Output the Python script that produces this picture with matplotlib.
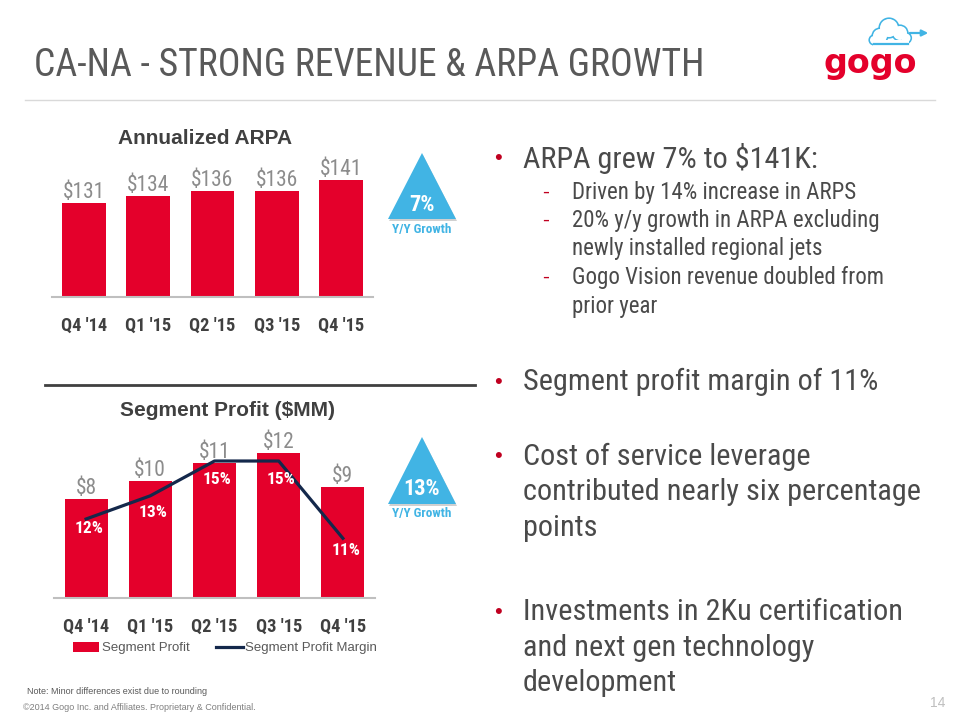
import matplotlib
matplotlib.use("Agg")
import matplotlib.pyplot as plt
from matplotlib.patches import Polygon, Circle, Rectangle

# ---------------- data ----------------
quarters = ["Q4 '14", "Q1 '15", "Q2 '15", "Q3 '15", "Q4 '15"]
arpa = [131, 134, 136, 136, 141]                 # $K, annualized ARPA
segment_profit = [8.1, 9.6, 11.1, 11.9, 9.1]     # $MM
profit_margin = [12.0, 13.2, 15.0, 15.0, 11.0]   # %
arpa_growth = "7%"
profit_growth = "13%"
bullets = [
    ("ARPA grew 7% to $141K:", [
        ["Driven by 14% increase in ARPS"],
        ["20% y/y growth in ARPA excluding", "newly installed regional jets"],
        ["Gogo Vision revenue doubled from", "prior year"],
    ]),
    ("Segment profit margin of 11%", []),
    ("Cost of service leverage\ncontributed nearly six percentage\npoints", []),
    ("Investments in 2Ku certification\nand next gen technology\ndevelopment", []),
]

# ---------------- style ----------------
RED = "#E4002B"
NAVY = "#14284B"
BLUE = "#41B4E4"
DARK = "#404040"
GREY = "#8C8C8C"
NARROW = ["Roboto Condensed", "Archivo Narrow", "DejaVu Sans"]
SANS = ["Liberation Sans", "DejaVu Sans"]

W, H = 960, 720
fig = plt.figure(figsize=(9.6, 7.2), dpi=100)
fig.patch.set_facecolor("white")


def fx(px):
    return px / W


def fy(py):
    return 1 - py / H


def style_axes(ax):
    for s in ("top", "right", "left"):
        ax.spines[s].set_visible(False)
    ax.spines["bottom"].set_color("#BFBFBF")
    ax.spines["bottom"].set_linewidth(1.5)
    ax.set_yticks([])
    ax.set_facecolor("none")
    ax.tick_params(axis="x", length=0, pad=14.5)
    for lab in ax.get_xticklabels():
        lab.set_fontfamily(NARROW)
        lab.set_fontweight("bold")
        lab.set_fontsize(13.2)
        lab.set_color(DARK)


x = list(range(len(quarters)))

# ---------------- ARPA chart ----------------
ax1 = fig.add_axes([fx(52), fy(297), fx(321), (297 - 150) / H])
bars1 = ax1.bar(x, arpa, width=0.68, color=RED, zorder=2)
ax1.set_xlim(-0.5, 4.5)
ax1.set_ylim(90, 90 + 147 / 2.3)
ax1.set_xticks(x, quarters)
style_axes(ax1)
ax1.bar_label(bars1, labels=[f"${v:.0f}" for v in arpa], padding=0,
              fontsize=15.5, color=GREY, family=NARROW)
fig.text(fx(205), fy(139), "Annualized ARPA", ha="center", va="center",
         fontsize=15, fontweight="bold", color=DARK, family=SANS)

# ---------------- Segment profit chart ----------------
ax2 = fig.add_axes([fx(54), fy(598), fx(321), (598 - 420) / H])
bars2 = ax2.bar(x, segment_profit, width=0.67, color=RED, zorder=2,
                label="Segment Profit")
ax2.set_xlim(-0.5, 4.5)
ax2.set_ylim(0, 178 / 12.2)
ax2.set_xticks(x, quarters)
style_axes(ax2)
ax2.bar_label(bars2, labels=[f"${v:.0f}" for v in segment_profit], padding=0,
              fontsize=15.5, color=GREY, family=NARROW)

ax3 = ax2.twinx()
ax3.set_ylim(12 - (598 - 519) / 19.33, 12 - (598 - 519) / 19.33 + 178 / 19.33)
line, = ax3.plot(x, profit_margin, color=NAVY, lw=2.3, zorder=3,
                 label="Segment Profit Margin")
ax3.set_yticks([])
for s in ax3.spines.values():
    s.set_visible(False)
label_offsets = [-7, -12, -13, -13, -9]
for xi, m, off in zip(x, profit_margin, label_offsets):
    ax3.annotate(f"{m:.0f}%", (xi, m), xytext=(2, off), textcoords="offset points",
                 ha="center", va="center", color="white", fontsize=12.5,
                 fontweight="bold", family=NARROW, zorder=4)

fig.text(fx(227), fy(410), "Segment Profit ($MM)", ha="center", va="center",
         fontsize=15, fontweight="bold", color=DARK, family=SANS)

leg = fig.legend(handles=[bars2, line], labels=["Segment Profit", "Segment Profit Margin"],
                 loc="center left", bbox_to_anchor=(fx(73), fy(648)), ncol=2,
                 frameon=False, fontsize=9.5, handlelength=2.0, handleheight=0.8,
                 handletextpad=0.2, columnspacing=2.0, borderpad=0, borderaxespad=0)
for t in leg.get_texts():
    t.set_color("#595959")
    t.set_fontfamily(SANS)

# ---------------- overlay (decorations & text) ----------------
ov = fig.add_axes([0, 0, 1, 1], zorder=5)
ov.set_xlim(0, W)
ov.set_ylim(H, 0)
ov.axis("off")
ov.patch.set_visible(False)

# title
ov.text(34, 66, "CA-NA - STRONG REVENUE & ARPA GROWTH", ha="left", va="center",
        fontsize=27.2, color="#595959", family=NARROW)
ov.plot([25, 935], [100, 100], color="#D9D9D9", lw=1)
ov.plot([45, 475], [385, 385], color=DARK, lw=2)

# logo
ov.text(870, 63, "gogo", ha="center", va="center", fontsize=24, fontweight="bold",
        color=RED, family=["DejaVu Sans"])
cloud = [(880, 36, 7), (889, 28, 9), (900, 33, 7), (906, 38, 4.5), (874, 40, 4)]
for cx, cy, r in cloud:
    ov.add_patch(Circle((cx, cy), r + 1.6, color=BLUE, lw=0, zorder=1))
for cx, cy, r in cloud:
    ov.add_patch(Circle((cx, cy), r, color="white", lw=0, zorder=2))
ov.add_patch(Rectangle((873, 40), 36, 6, color="white", lw=0, zorder=2))
ov.plot([874, 908], [43.5, 43.5], color=BLUE, lw=1.6, zorder=3)
ov.annotate("", xy=(931, 33), xytext=(907, 33),
            arrowprops=dict(arrowstyle="-|>", color=BLUE, lw=1.6,
                            mutation_scale=9), zorder=3)


def triangle(xc, top, base, txt, ty, gy):
    half = 34
    ov.add_patch(Polygon([(xc - half + 1, base + 2), (xc + half + 1, base + 2), (xc + 1, top + 2)],
                         closed=True, color="#D0D0D0", lw=0, zorder=1))
    ov.add_patch(Polygon([(xc - half, base), (xc + half, base), (xc, top)],
                         closed=True, color=BLUE, lw=0, zorder=2))
    ov.text(xc, ty, txt, ha="center", va="center", color="white", fontsize=16,
            fontweight="bold", family=NARROW, zorder=3)
    ov.text(xc, gy, "Y/Y Growth", ha="center", va="center", color=BLUE, fontsize=9.5,
            fontweight="bold", family=NARROW, zorder=3)


triangle(422, 153, 219, arpa_growth, 205, 229)
triangle(422, 437, 504, profit_growth, 489, 513)

# bullets
BODY = "#4A4A4A"
main_y = [158, 382, 457, 612]
line_gap = 35.5
sub_x, sub_gap = 572, 28.5
for (txt, subs), y0 in zip(bullets, main_y):
    ov.text(498, y0, "•", ha="center", va="center", color="#C00020", fontsize=16,
            family=SANS)
    for k, ln in enumerate(txt.split("\n")):
        ov.text(523, y0 + k * line_gap, ln, ha="left", va="center", color=BODY,
                fontsize=21.8, family=NARROW)
    yy = y0 + 34
    for sub in subs:
        ov.text(546, yy, "-", ha="center", va="center", color="#C00020", fontsize=15,
                family=SANS)
        for ln in sub:
            ov.text(sub_x, yy, ln, ha="left", va="center", color=BODY, fontsize=16.5,
                    family=NARROW)
            yy += sub_gap

# footer
ov.text(27, 692, "Note: Minor differences exist due to rounding", ha="left", va="center",
        fontsize=6.5, color="#595959", family=SANS)
ov.text(23, 708, "\u00a92014 Gogo Inc. and Affiliates. Proprietary & Confidential.",
        ha="left", va="center", fontsize=6.5, color="#7F7F7F", family=SANS)
ov.text(938, 703, "14", ha="center", va="center", fontsize=10, color="#BFBFBF",
        family=SANS)

fig.savefig("out.png", dpi=100)
